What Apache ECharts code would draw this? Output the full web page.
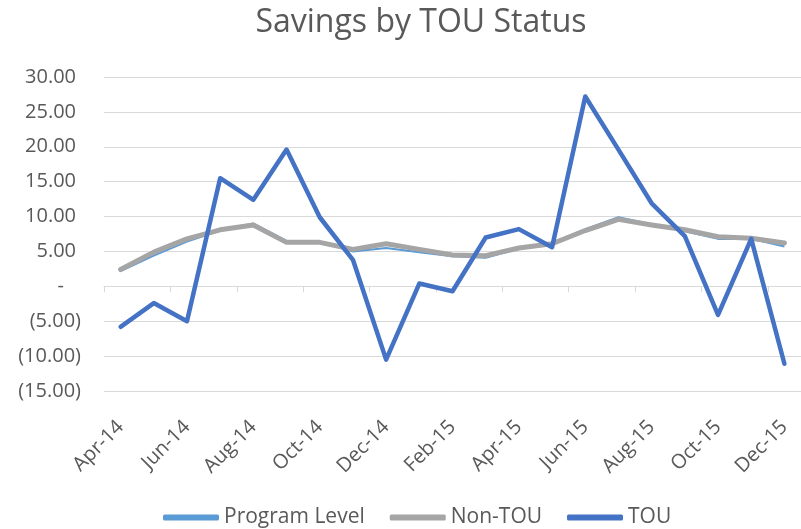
<!DOCTYPE html>
<html>
<head>
<meta charset="utf-8">
<style>
  html, body { margin: 0; padding: 0; background: #fff; }
  #main { width: 801px; height: 529px; }
</style>
<script src="https://cdn.jsdelivr.net/npm/echarts@6/dist/echarts.min.js"></script>
</head>
<body>
<div id="main"></div>
<script>
// months on the x axis
const months = ['Apr-14', 'May-14', 'Jun-14', 'Jul-14', 'Aug-14', 'Sep-14', 'Oct-14', 'Nov-14', 'Dec-14',
    'Jan-15', 'Feb-15', 'Mar-15', 'Apr-15', 'May-15', 'Jun-15', 'Jul-15', 'Aug-15', 'Sep-15', 'Oct-15', 'Nov-15', 'Dec-15'];

// savings
const programLevel = [2.2, 4.4, 6.4, 8.0, 9.0, 6.5, 6.4, 5.0, 5.5, 4.9, 4.3, 4.1, 5.4, 6.2, 8.2, 9.9, 8.9, 7.9, 6.8, 6.8, 5.7];
const nonTou = [2.4, 4.9, 6.8, 8.1, 8.8, 6.3, 6.3, 5.3, 6.1, 5.3, 4.5, 4.4, 5.5, 6.1, 8.0, 9.6, 8.8, 8.1, 7.1, 6.9, 6.2];
const tou = [-5.8, -2.4, -5.0, 15.5, 12.4, 19.6, 9.9, 3.8, -10.5, 0.4, -0.7, 7.0, 8.2, 5.6, 27.2, 19.6, 11.9, 7.2, -4.1, 6.8, -11.1];

const font = 'Open Sans';
const textColor = '#595959';
const gridColor = '#D9D9D9';

let myChart = echarts.init(document.getElementById('main'));

option = {
    backgroundColor: '#fff',
    textStyle: { fontFamily: font },
    title: {
        text: 'Savings by TOU Status',
        left: 416,
        textAlign: 'center',
        top: 2,
        textStyle: { fontFamily: font, fontSize: 32, fontWeight: 'normal', color: textColor }
    },
    legend: {
        left: 158,
        top: 502,
        itemWidth: 56,
        itemHeight: 6,
        itemGap: 25,
        icon: 'roundRect',
        textStyle: { fontFamily: font, fontSize: 21, color: textColor },
        data: ['Program Level', 'Non-TOU', 'TOU']
    },
    grid: { left: 104, right: -6, top: 77, bottom: 138 },
    xAxis: [
        {
            type: 'category',
            data: months,
            boundaryGap: true,
            axisLine: { show: false, onZero: false },
            axisTick: { show: false },
            axisLabel: {
                interval: 1,
                rotate: 45,
                margin: 33,
                fontFamily: font,
                fontSize: 20,
                color: textColor
            }
        },
        {
            type: 'category',
            data: months,
            boundaryGap: true,
            position: 'bottom',
            axisLine: { show: true, onZero: true, lineStyle: { color: gridColor, width: 1 } },
            axisTick: { show: true, interval: 1, length: 6, lineStyle: { color: gridColor } },
            axisLabel: { show: false }
        }
    ],
    yAxis: {
        type: 'value',
        min: -15,
        max: 30,
        interval: 5,
        axisLine: { show: false },
        axisTick: { show: false },
        splitLine: { lineStyle: { color: gridColor, width: 1 } },
        axisLabel: {
            margin: 23,
            color: textColor,
            fontFamily: font,
            fontSize: 20,
            formatter: function (v) {
                if (v === 0) return '{z|-}';
                if (v < 0) return '{n|(' + Math.abs(v).toFixed(2) + ')}';
                return '{p|' + v.toFixed(2) + '}';
            },
            rich: {
                p: { fontFamily: font, fontSize: 20, color: textColor, padding: [0, 5, 0, 0] },
                n: { fontFamily: font, fontSize: 20, color: textColor },
                z: { fontFamily: font, fontSize: 20, color: textColor, padding: [0, 17, 0, 0] }
            }
        }
    },
    series: [
        {
            name: 'Program Level',
            type: 'line',
            data: programLevel,
            symbol: 'none',
            lineStyle: { width: 2, color: '#5B9BD5' },
            itemStyle: { color: '#5B9BD5' }
        },
        {
            name: 'Non-TOU',
            type: 'line',
            data: nonTou,
            symbol: 'none',
            lineStyle: { width: 5, color: '#A5A5A5', cap: 'round', join: 'round' },
            itemStyle: { color: '#A5A5A5' }
        },
        {
            name: 'TOU',
            type: 'line',
            data: tou,
            symbol: 'none',
            lineStyle: { width: 4.5, color: '#4472C4', cap: 'round', join: 'round' },
            itemStyle: { color: '#4472C4' }
        }
    ]
};

myChart.setOption(option);
</script>
</body>
</html>
